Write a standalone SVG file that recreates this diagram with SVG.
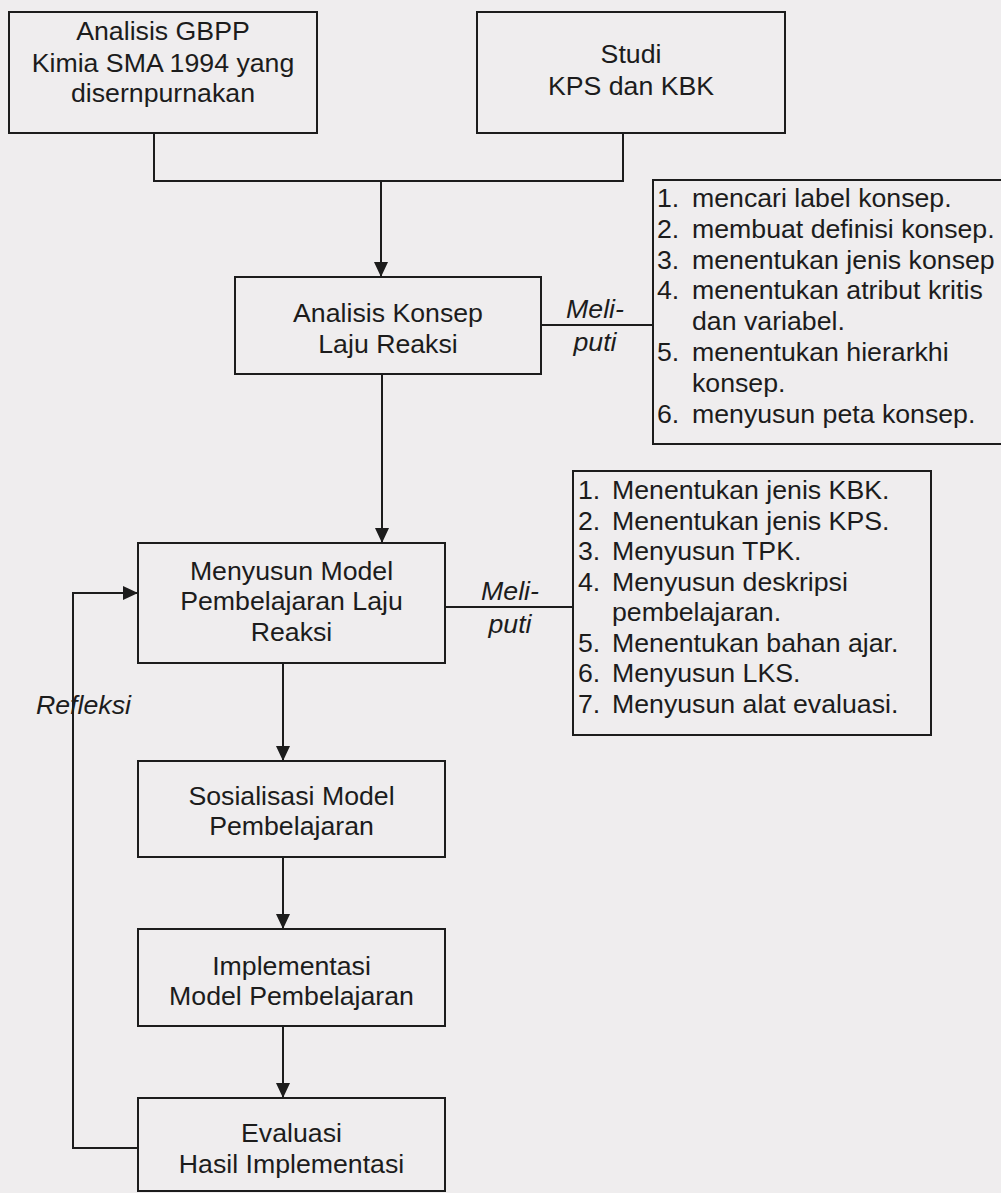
<svg xmlns="http://www.w3.org/2000/svg" width="1001" height="1193" viewBox="0 0 1001 1193">
<defs>
<marker id="arr" markerUnits="userSpaceOnUse" markerWidth="15" markerHeight="14" viewBox="0 0 15 14" refX="15" refY="7" orient="auto"><path d="M0,0 L15,7 L0,14 z" fill="#1c1c1c"/></marker>
<style>
.box{fill:none;stroke:#1c1c1c;stroke-width:2}
.ln{fill:none;stroke:#1c1c1c;stroke-width:2}
.t{font-family:"Liberation Sans",Arial,sans-serif;font-size:26.7px;fill:#1c1c1c}
.c{text-anchor:middle}
.i{font-style:italic}
</style>
</defs>
<rect width="1001" height="1193" fill="#efedee"/>

<g id="connectors">
<path class="ln" d="M154,133 V181 H623 V133"/>
<path class="ln" d="M381,181 V277" marker-end="url(#arr)"/>
<path class="ln" d="M382,374 V543" marker-end="url(#arr)"/>
<path class="ln" d="M541,325 H653"/>
<path class="ln" d="M445,607 H573"/>
<path class="ln" d="M283,663 V761" marker-end="url(#arr)"/>
<path class="ln" d="M283,857 V929" marker-end="url(#arr)"/>
<path class="ln" d="M283,1026 V1098" marker-end="url(#arr)"/>
<path class="ln" d="M138,1148 H73 V593 H138" marker-end="url(#arr)"/>
<text class="t c i" x="595" y="318">Meli-</text>
<text class="t c i" x="595" y="351">puti</text>
<text class="t c i" x="510" y="600">Meli-</text>
<text class="t c i" x="510" y="633">puti</text>
<text class="t i" x="36" y="714">Refleksi</text>
</g>

<g id="node-gbpp">
<rect class="box" x="9" y="12" width="308" height="121"/>
<text class="t c" x="163" y="40">Analisis GBPP</text>
<text class="t c" x="163" y="72">Kimia SMA 1994 yang</text>
<text class="t c" x="163" y="102">disernpurnakan</text>
</g>

<g id="node-studi">
<rect class="box" x="477" y="12" width="308" height="121"/>
<text class="t c" x="631" y="63">Studi</text>
<text class="t c" x="631" y="95">KPS dan KBK</text>
</g>

<g id="node-analisis-konsep">
<rect class="box" x="235" y="277" width="306" height="97"/>
<text class="t c" x="388" y="322">Analisis Konsep</text>
<text class="t c" x="388" y="353">Laju Reaksi</text>
</g>

<g id="node-list1">
<rect class="box" x="653" y="180" width="370" height="264"/>
<text class="t" y="207"><tspan x="657">1. </tspan><tspan x="692">mencari label konsep.</tspan></text>
<text class="t" y="238"><tspan x="657">2. </tspan><tspan x="692">membuat definisi konsep.</tspan></text>
<text class="t" y="269"><tspan x="657">3. </tspan><tspan x="692">menentukan jenis konsep</tspan></text>
<text class="t" y="299"><tspan x="657">4. </tspan><tspan x="692">menentukan atribut kritis</tspan></text>
<text class="t" x="692" y="330">dan variabel.</text>
<text class="t" y="361"><tspan x="657">5. </tspan><tspan x="692">menentukan hierarkhi</tspan></text>
<text class="t" x="692" y="392">konsep.</text>
<text class="t" y="423"><tspan x="657">6. </tspan><tspan x="692">menyusun peta konsep.</tspan></text>
</g>

<g id="node-menyusun-model">
<rect class="box" x="138" y="543" width="307" height="120"/>
<text class="t c" x="291.5" y="580">Menyusun Model</text>
<text class="t c" x="291.5" y="610">Pembelajaran Laju</text>
<text class="t c" x="291.5" y="641">Reaksi</text>
</g>

<g id="node-list2">
<rect class="box" x="573" y="471" width="358" height="264"/>
<text class="t" y="499"><tspan x="578">1. </tspan><tspan x="612">Menentukan jenis KBK.</tspan></text>
<text class="t" y="529.5"><tspan x="578">2. </tspan><tspan x="612">Menentukan jenis KPS.</tspan></text>
<text class="t" y="560"><tspan x="578">3. </tspan><tspan x="612">Menyusun TPK.</tspan></text>
<text class="t" y="590.5"><tspan x="578">4. </tspan><tspan x="612">Menyusun deskripsi</tspan></text>
<text class="t" x="612" y="621">pembelajaran.</text>
<text class="t" y="651.5"><tspan x="578">5. </tspan><tspan x="612">Menentukan bahan ajar.</tspan></text>
<text class="t" y="682"><tspan x="578">6. </tspan><tspan x="612">Menyusun LKS.</tspan></text>
<text class="t" y="712.5"><tspan x="578">7. </tspan><tspan x="612">Menyusun alat evaluasi.</tspan></text>
</g>

<g id="node-sosialisasi">
<rect class="box" x="138" y="761" width="307" height="96"/>
<text class="t c" x="291.5" y="805">Sosialisasi Model</text>
<text class="t c" x="291.5" y="835">Pembelajaran</text>
</g>

<g id="node-implementasi">
<rect class="box" x="138" y="929" width="307" height="97"/>
<text class="t c" x="291.5" y="975">Implementasi</text>
<text class="t c" x="291.5" y="1005">Model Pembelajaran</text>
</g>

<g id="node-evaluasi">
<rect class="box" x="138" y="1098" width="307" height="93"/>
<text class="t c" x="291.5" y="1142">Evaluasi</text>
<text class="t c" x="291.5" y="1173">Hasil Implementasi</text>
</g>
</svg>
